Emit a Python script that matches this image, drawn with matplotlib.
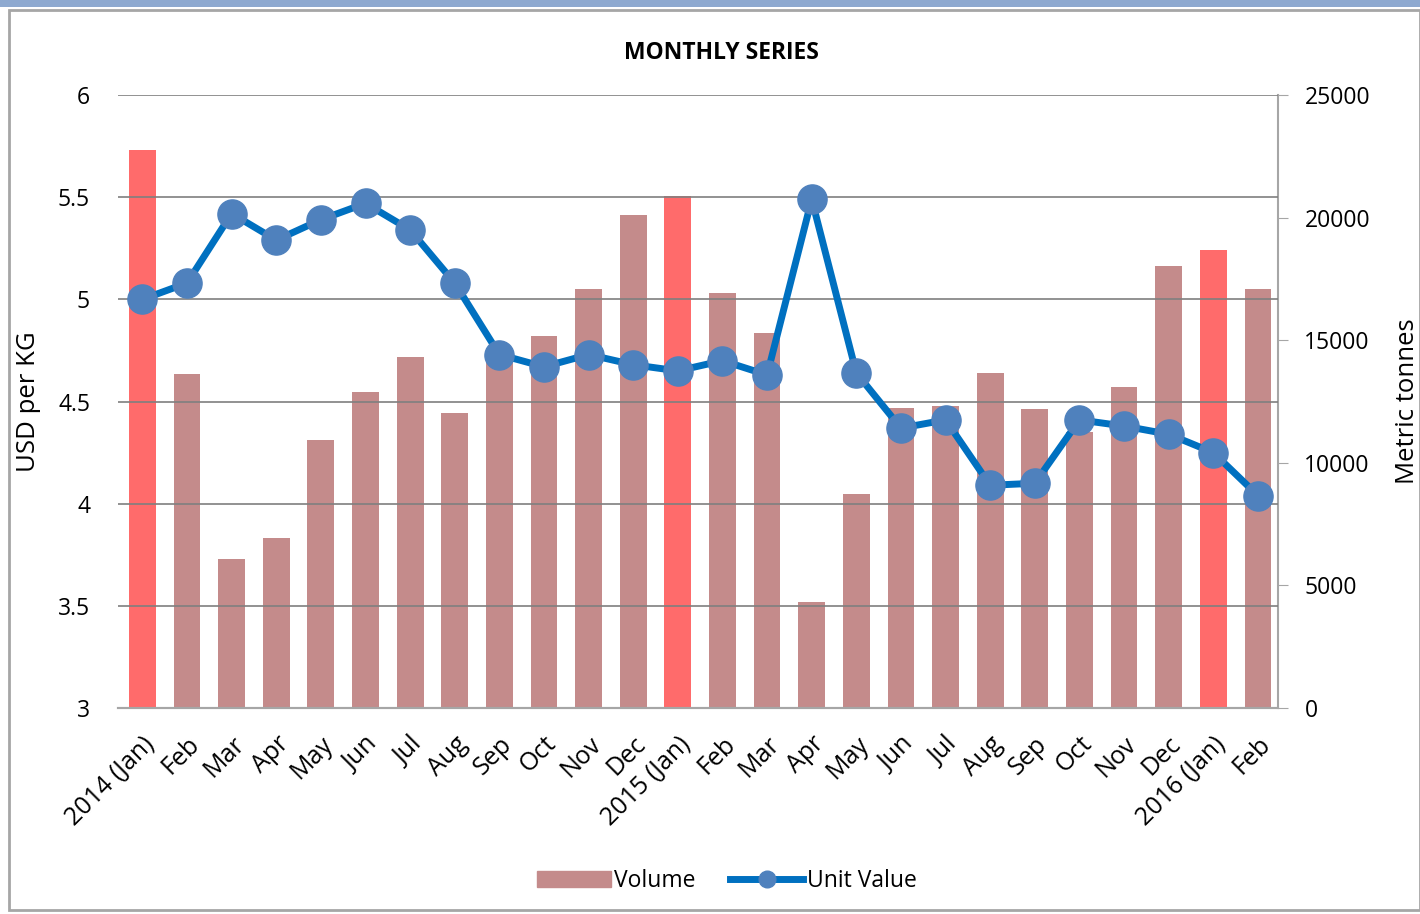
import matplotlib.pyplot as plt
import numpy as np

months = ["2014 (Jan)", "Feb", "Mar", "Apr", "May", "Jun", "Jul", "Aug", "Sep", "Oct", "Nov", "Dec",
          "2015 (Jan)", "Feb", "Mar", "Apr", "May", "Jun", "Jul", "Aug", "Sep", "Oct", "Nov", "Dec",
          "2016 (Jan)", "Feb"]
volume = ([22750, 13620, 6080, 6930, 10930, 12890, 14320, 12030, 14200, 15170, 17090, 20110,
           20880, 16930, 15290, 4320, 8730, 12240, 12300, 13660, 12190, 11260, 13090, 18030,
           18680, 17090])
unit_value = ([5.00, 5.08, 5.42, 5.29, 5.39, 5.47, 5.34, 5.08, 4.73, 4.67, 4.73, 4.68,
               4.65, 4.70, 4.63, 5.49, 4.64, 4.37, 4.41, 4.09, 4.10, 4.41, 4.38, 4.34,
               4.25, 4.04])

#setting font properties via fontdict
font1 ={'family':'Open Sans',
          'color':'black',
          'size':18.5,
          }
font2 ={'family':'Open Sans',
          'color':'black',
          'weight':'bold',
          'size':16.5,
          }

plt.rcParams['font.family'] = 'Open Sans'

x = np.arange(len(months))
# january bars are highlighted in red
bar_colors = ['#FF6B6B' if m.endswith("(Jan)") else '#C48B8B' for m in months]

fig = plt.figure(figsize=(14.2, 9.14), dpi=100)
# chart border like the spreadsheet frame
fig.patches.append(plt.Rectangle((0.006, 0.004), 0.994, 0.985, transform=fig.transFigure,
                                 fill=False, edgecolor='#A6A6A6', linewidth=2))
fig.patches.append(plt.Rectangle((0, 0.992), 1, 0.008, transform=fig.transFigure,
                                 color='#8EA9D0', linewidth=0))

ax = fig.add_axes([0.083, 0.2254, 0.817, 0.6706])
ax2 = ax.twinx()

# volume bars on the right axis
ax2.bar(x, volume, width=0.6, color=bar_colors, zorder=2)
ax2.set_ylim(0, 25000)
ax2.set_yticks(range(0, 25001, 5000))
ax2.set_ylabel("Metric tonnes", fontdict=font1, labelpad=18)
ax2.tick_params(axis='y', length=7, color='#A6A6A6', labelsize=16.5, pad=12)

# unit value line on the left axis, drawn on top of the bars
ax.set_zorder(ax2.get_zorder() + 1)
ax.patch.set_visible(False)
ax.plot(x, unit_value, color='#0070C0', linewidth=5, marker='o', markersize=21,
        markerfacecolor='#4F81BD', markeredgecolor='#4F81BD', zorder=3)
ax.set_ylim(3, 6)
ax.set_yticks(np.arange(3, 6.01, 0.5))
ax.set_yticklabels(["3", "3.5", "4", "4.5", "5", "5.5", "6"])
ax.set_ylabel("USD per KG", fontdict=font1, labelpad=12)
ax.tick_params(axis='y', length=0, labelsize=16.5, pad=20)
ax.set_xlim(-0.55, len(months) - 0.55)
ax.set_xticks(x)
ax.set_xticklabels(months, rotation=45, ha='right', rotation_mode='anchor', fontsize=18)
ax.tick_params(axis='x', length=0, pad=17)

#specifing grid line color and style
ax.grid(axis='y', color='#7F7F7F', linestyle='-', linewidth=1.2, zorder=1)

for a in (ax, ax2):
    a.spines['top'].set_visible(False)
    a.spines['left'].set_visible(False)
    a.spines['right'].set_visible(False)
    a.spines['bottom'].set_color('#A6A6A6')
    a.spines['bottom'].set_linewidth(1.5)
ax2.spines['right'].set_visible(True)
ax2.spines['right'].set_color('#A6A6A6')
ax2.spines['right'].set_linewidth(1.5)

fig.text(0.508, 0.942, "MONTHLY SERIES", fontdict=font2, ha='center', va='center')

# legend at the bottom
handles = [plt.Rectangle((0, 0), 1, 1, color='#C48B8B'),
           plt.Line2D([], [], color='#0070C0', linewidth=5, marker='o', markersize=12,
                      markerfacecolor='#4F81BD', markeredgecolor='#4F81BD')]
fig.legend(handles, ["Volume", "Unit Value"], loc='center', bbox_to_anchor=(0.512, 0.036), ncol=2,
           frameon=False, fontsize=16.5, handlelength=3.2, handletextpad=0.15, columnspacing=1.5)

plt.savefig("out.png", dpi=100)
